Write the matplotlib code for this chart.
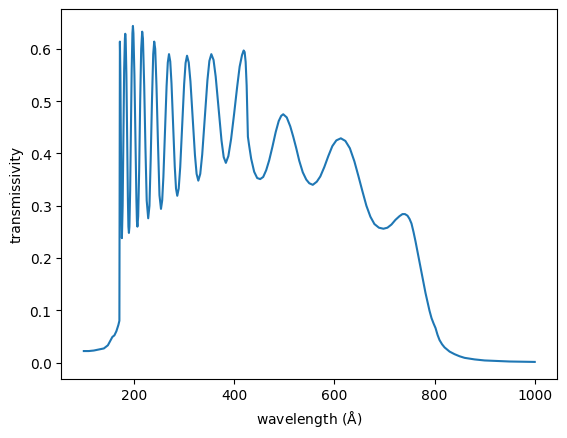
import matplotlib
matplotlib.use('Agg')
import matplotlib.pyplot as plt

# wavelength (Angstrom) and transmissivity
wavelength = [
    100, 110, 120, 130, 140, 148, 153, 157, 161, 165, 169, 171, 171.5, 172,
    173, 174, 175, 176,
    177.5, 179, 180.5, 182, 182.7,
    183.5, 185, 186.5, 188, 189, 190,
    191, 192.5, 194, 195.5, 197, 198,
    199, 201, 203, 205, 206, 207,
    208.5, 210.5, 212.5, 214.5, 216.5,
    218, 220.5, 223, 225.5, 228.5,
    231, 233.5, 236, 238.5, 240.5,
    242.5, 245, 248, 251, 254,
    256.4, 258.8, 262, 265.2, 267.6, 270,
    272.5, 275, 278.3, 281.5, 284, 286.5,
    289.4, 292.4, 296.3, 300.2, 303.1, 306,
    309.4, 312.8, 317.3, 321.8, 325.1, 328.5,
    332.4, 336.3, 341.5, 346.7, 350.6, 354.5,
    358.9, 363.2, 369, 374.8, 379.2, 383.5,
    388.5, 394, 400, 406, 411, 415.7, 419,
    421, 423, 425, 426.5, 427.5, 430, 434, 440, 446, 452,
    458, 464, 470, 476.5, 483, 489, 494, 498,
    505, 512, 518, 524, 530, 537, 544, 550, 557,
    565, 572, 580, 588, 596, 604, 613,
    622, 631, 640, 648, 656, 664, 672, 680, 689, 698,
    706, 714, 722, 730, 736, 741, 746, 750, 754,
    758, 762, 766, 770, 774, 778, 782, 786, 790, 794, 798, 802, 806, 810, 815, 820,
    830, 840, 850, 860, 880, 900, 925, 950, 975, 1000,
]
transmissivity = [
    0.022, 0.022, 0.023, 0.025, 0.027, 0.033, 0.042, 0.049, 0.052, 0.060, 0.072, 0.080, 0.30, 0.614,
    0.55, 0.42, 0.29, 0.238,
    0.30, 0.43, 0.56, 0.62, 0.629,
    0.62, 0.55, 0.43, 0.31, 0.26, 0.248,
    0.26, 0.33, 0.45, 0.56, 0.63, 0.644,
    0.63, 0.55, 0.43, 0.31, 0.27, 0.260,
    0.28, 0.37, 0.50, 0.60, 0.633,
    0.62, 0.53, 0.41, 0.31, 0.276,
    0.30, 0.39, 0.50, 0.59, 0.614,
    0.60, 0.53, 0.42, 0.32, 0.294,
    0.310, 0.355, 0.442, 0.529, 0.574, 0.590,
    0.576, 0.534, 0.455, 0.375, 0.333, 0.319,
    0.333, 0.374, 0.453, 0.532, 0.573, 0.587,
    0.574, 0.538, 0.468, 0.397, 0.361, 0.348,
    0.361, 0.398, 0.469, 0.540, 0.577, 0.590,
    0.579, 0.547, 0.486, 0.425, 0.393, 0.382,
    0.395, 0.428, 0.476, 0.527, 0.566, 0.588, 0.597,
    0.594, 0.575, 0.53, 0.47, 0.432, 0.415, 0.39, 0.365, 0.353, 0.351,
    0.355, 0.368, 0.387, 0.413, 0.441, 0.462, 0.472, 0.475,
    0.469, 0.452, 0.432, 0.410, 0.386, 0.364, 0.350, 0.343, 0.340,
    0.346, 0.356, 0.374, 0.395, 0.414, 0.425, 0.429,
    0.424, 0.410, 0.385, 0.357, 0.328, 0.300, 0.279, 0.265, 0.258, 0.256,
    0.258, 0.264, 0.273, 0.280, 0.284, 0.284, 0.281, 0.275, 0.266,
    0.25, 0.232, 0.212, 0.192, 0.172, 0.152, 0.133, 0.116, 0.099, 0.085, 0.075, 0.066, 0.053, 0.043, 0.035, 0.029,
    0.021, 0.016, 0.012, 0.009, 0.006, 0.004, 0.003, 0.002, 0.0015, 0.0012,
]

fig, ax = plt.subplots(figsize=(6.4, 4.8), dpi=100)
ax.plot(wavelength, transmissivity)
ax.set_xlabel(r'wavelength ($\mathrm{\AA}$)')
ax.set_ylabel('transmissivity')

plt.savefig('out.png', dpi=100, bbox_inches='tight')
